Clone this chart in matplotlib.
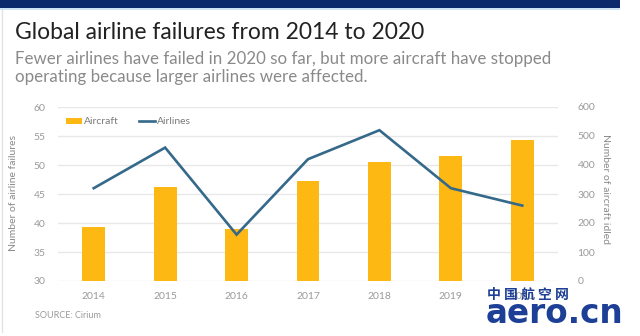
import matplotlib.pyplot as plt
from matplotlib.patches import Patch, Rectangle
from matplotlib.lines import Line2D

# data
years = ["2014", "2015", "2016", "2017", "2018", "2019", "2020"]
aircraft = [185, 325, 180, 345, 410, 430, 485]   # right axis, aircraft idled
airlines = [46, 53, 38, 51, 56, 46, 43]          # left axis, airline failures

plt.rcParams['font.family'] = ['Lato', 'DejaVu Sans']

BAR = '#fdb813'
LINE = '#34698a'
GRID = '#e8e8e8'
TICK = '#9a9a9a'

fig = plt.figure(figsize=(6.4, 3.36), dpi=100)
fig.patch.set_facecolor('white')

# top banner
fig.add_artist(Rectangle((0, 1 - 8/336), 620/640, 8/336, transform=fig.transFigure,
                         facecolor='#0c2a6b', edgecolor='none'))
fig.add_artist(Rectangle((0, 1 - 10/336), 620/640, 2/336, transform=fig.transFigure,
                         facecolor='#cfe3f3', edgecolor='none'))
# card border left
fig.add_artist(Line2D([2/640, 2/640], [4/336, 1 - 10/336], transform=fig.transFigure,
                      color='#e2e2e2', lw=1))

fig.text(15/640, 1 - 39/336, "Global airline failures from 2014 to 2020",
         fontsize=16.5, color='#222222', va='baseline', ha='left')
fig.text(15/640, 1 - 64/336,
         "Fewer airlines have failed in 2020 so far, but more aircraft have stopped",
         fontsize=12.2, color='#8a8a8a', va='baseline', ha='left')
fig.text(15/640, 1 - 82/336, "operating because larger airlines were affected.",
         fontsize=12.2, color='#8a8a8a', va='baseline', ha='left')

ax2 = fig.add_axes([58/640, 1 - 281/336, 500/640, 174/336])
ax = ax2.twinx()
ax.yaxis.tick_left()
ax.yaxis.set_label_position('left')
ax2.yaxis.tick_right()
ax2.yaxis.set_label_position('right')
ax.set_zorder(ax2.get_zorder() + 1)
ax.patch.set_visible(False)

x = range(len(years))
ax2.bar(x, aircraft, width=0.32, color=BAR, zorder=2)
ax2.set_ylim(0, 600)
ax2.set_yticks(range(0, 601, 100))
ax2.grid(axis='y', color=GRID, lw=1, zorder=0)
ax2.set_axisbelow(True)

ax.plot(x, airlines, color=LINE, lw=1.9, solid_joinstyle='miter')
ax.set_ylim(30, 60)
ax.set_yticks(range(30, 61, 5))
ax.set_xlim(-0.5, 6.5)
ax2.set_xlim(-0.5, 6.5)
ax2.set_xticks(list(x))
ax2.set_xticklabels(years)

for a in (ax, ax2):
    for s in a.spines.values():
        s.set_visible(False)
    a.tick_params(length=0, labelsize=7.5, colors=TICK)
ax.tick_params(axis='y', pad=9)
ax2.tick_params(axis='y', pad=14)
ax2.tick_params(axis='x', pad=8)

ax.set_ylabel("Number of airline failures", fontsize=7.5, color='#8a8a8a', labelpad=12)
ax2.set_ylabel("Number of aircraft idled", fontsize=7.5, color='#8a8a8a',
               rotation=270, labelpad=2, va='bottom')
ax2.yaxis.set_label_coords((601 - 58) / 500, (281 - 189) / 174)
ax.yaxis.set_label_coords((18 - 58) / 500, (281 - 193) / 174)

handles = [Patch(facecolor=BAR, edgecolor='none'), Line2D([], [], color=LINE, lw=1.9)]
leg = fig.legend(handles, ["Aircraft", "Airlines"], loc='center left',
                 bbox_to_anchor=(66/640, 1 - 122/336), ncol=2, frameon=False,
                 fontsize=7.5, handlelength=1.5, handleheight=0.5, handletextpad=0.2,
                 columnspacing=2.0, borderpad=0, borderaxespad=0)
for t in leg.get_texts():
    t.set_color('#7a7a7a')

fig.text(35/640, 1 - 316/336, "SOURCE: Cirium", fontsize=6.5, color='#9a9a9a',
         va='center', ha='left')

# watermark (sits over the 2020 label, as in the source image)
fig.text(487/640, 1 - 295/336, "中 国 航 空 网", fontsize=10, fontweight='bold',
         color='#1d3f95', va='center', ha='left',
         family=['Noto Sans CJK SC', 'DejaVu Sans'], zorder=10)
fig.text(486/640, 1 - 323/336, "aero.cn", fontsize=23.5, fontweight='bold',
         color='#1d3f95', va='baseline', ha='left',
         family=['DejaVu Sans'], zorder=10)

fig.savefig("out.png", dpi=100)
